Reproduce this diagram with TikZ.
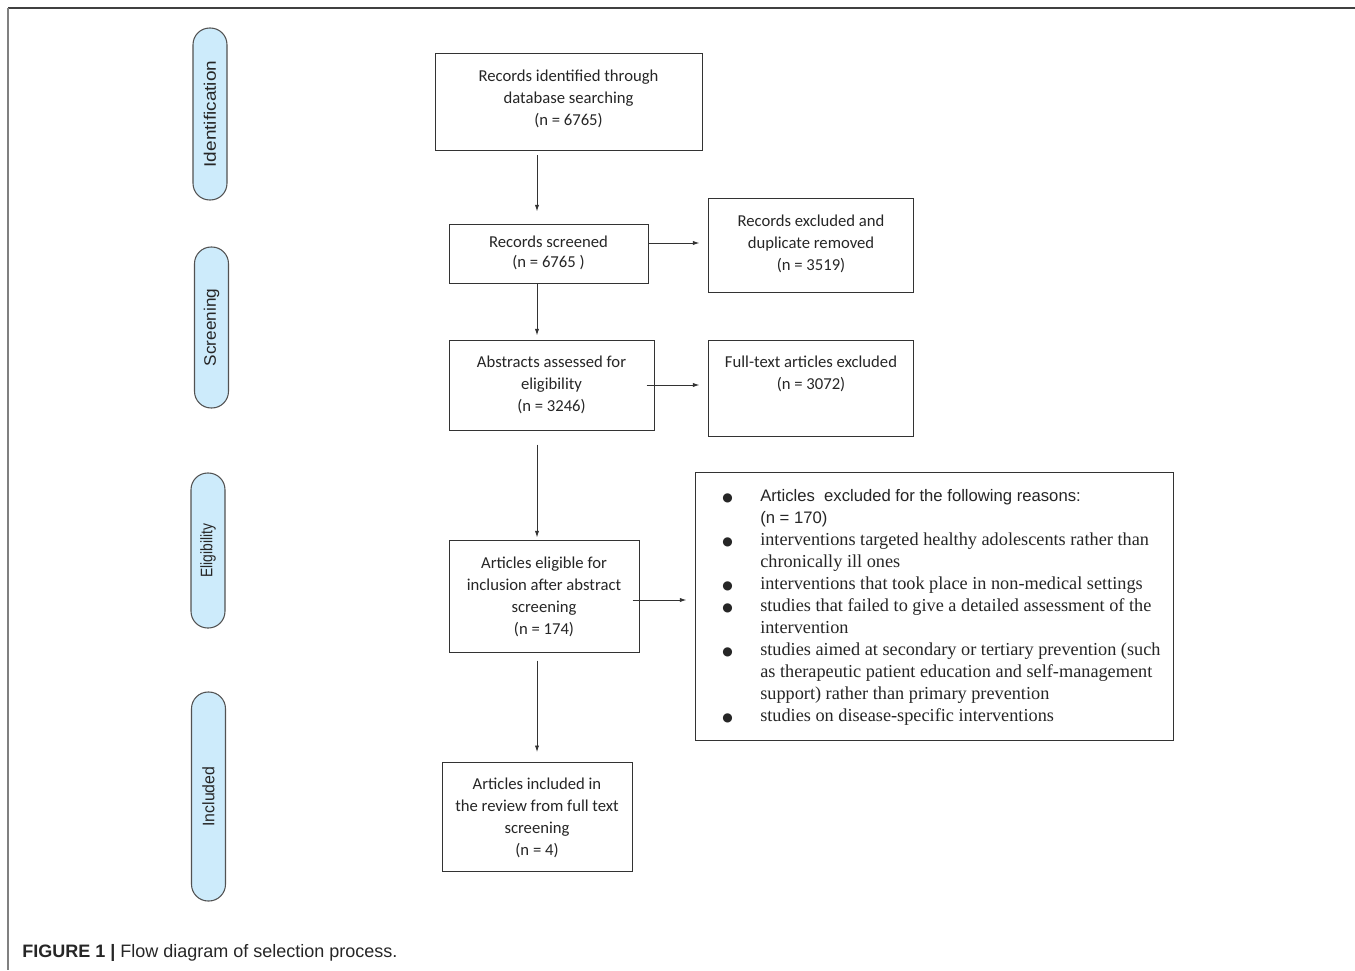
\documentclass[tikz,border=0pt]{standalone}
\usepackage{fontspec}
\setmainfont{Carlito}
\newfontfamily\arialf{Liberation Sans}
\newfontfamily\timesf{Liberation Serif}
\newfontfamily\djv{DejaVu Sans}
\usetikzlibrary{arrows.meta,calc}
\definecolor{pillblue}{HTML}{CDEBFB}
\definecolor{edge}{HTML}{333333}
\newcommand{\bul}{{\djv\fontsize{9}{9}\selectfont ●}}
\begin{document}
\begin{tikzpicture}[x=0.75pt,y=-0.75pt,
  box/.style={draw=edge, line width=0.75pt, inner sep=0, fill=white},
  btext/.style={align=center, font=\fontsize{12.5}{16.5}\selectfont, inner sep=0, text=black!85},
  pill/.style={draw=edge!85, line width=0.8pt, fill=pillblue, rounded corners=12.5pt, rotate=90, inner sep=0,
    font=\arialf\fontsize{12.5}{14}\selectfont, text=black!85, minimum height=25.5pt},
  arr/.style={draw=edge, line width=0.7pt, -{Latex[length=5pt,width=3.2pt]}}]
\useasboundingbox (0,0) rectangle (1355,970);
% frame
\draw[color=black!75, line width=1.5pt] (8,8.5) -- (1355,8.5);
\draw[color=black!50, line width=1.5pt] (8,8.5) -- (8,970);
% phase pills
\node[pill, minimum width=129pt] (p1) at (210,114) {\scalebox{1.14}[1]{Identification}};
\node[pill, minimum width=120.75pt] (p2) at (211.5,327.5) {\raisebox{0pt}{\scalebox{1.03}[1]{Screening}}};
\node[pill, minimum width=116.25pt] (p3) at (208,550.5) {\scalebox{0.83}[1]{Eligibility}};
\node[pill, minimum width=156.75pt] (p4) at (208.5,796.5) {\scalebox{0.95}[1]{Included}};
% boxes
\node[box, minimum width=200.25pt, minimum height=72.75pt] (b1) at (568.5,102.5) {};
\node[box, minimum width=149.25pt, minimum height=44.25pt] (b2) at (548.5,253.5) {};
\node[box, minimum width=153.75pt, minimum height=70.5pt] (b3) at (810.5,245) {};
\node[box, minimum width=153.75pt, minimum height=67.5pt] (b4) at (551.5,385) {};
\node[box, minimum width=153.75pt, minimum height=72pt] (b5) at (810.5,388) {};
\node[box, minimum width=142.5pt, minimum height=84pt] (b6) at (544,596) {};
\node[box, minimum width=358.5pt, minimum height=201pt] (r) at (934,606) {};
\node[box, minimum width=142.5pt, minimum height=81.75pt] (b8) at (537,816.5) {};
% box texts
\node[btext] (t1) at (568.5,99) {Records identified through\\database searching\\(n = 6765)};
\node[btext, font=\fontsize{12.5}{15}\selectfont] (t2) at (548.5,253) {Records screened\\(n = 6765 )};
\node[btext] (t3) at (811,244) {Records excluded and\\duplicate removed\\(n = 3519)};
\node[btext] (t4) at (551.5,385) {Abstracts assessed for\\eligibility\\(n = 3246)};
\node[btext] (t5) at (811,374) {Full-text articles excluded\\(n = 3072)};
\node[btext] (t6) at (544,597) {Articles eligible for\\inclusion after abstract\\screening\\(n = 174)};
\node[btext] (t8) at (537,818) {Articles included in\\the review from full text\\screening\\(n = 4)};
\node[anchor=north west, inner sep=0, text=black!85, font=\timesf\fontsize{13.7}{16.5}\selectfont] (rt) at (722,485.6) {%
\begin{tabular}{@{}p{28.5pt}@{}l@{}}
\bul & {\arialf\fontsize{12.5}{16.5}\selectfont Articles\ \ excluded for the following reasons:}\\
 & {\arialf\fontsize{12.5}{16.5}\selectfont (n = 170)}\\
\bul & interventions targeted healthy adolescents rather than\\
 & chronically ill ones\\
\bul & interventions that took place in non-medical settings\\
\bul & studies that failed to give a detailed assessment of the\\
 & intervention\\
\bul & studies aimed at secondary or tertiary prevention (such\\
 & as therapeutic patient education and self-management\\
 & support) rather than primary prevention\\
\bul & studies on disease-specific interventions
\end{tabular}};
% connectors
\draw[arr, shorten <=3pt, shorten >=9pt] (b1.south -| b8.north) -- (b2.north -| b8.north);
\draw[arr, shorten >=3pt] (b2.south -| b8.north) -- (b4.north -| b8.north);
\draw[arr, shorten <=10.5pt, shorten >=1.5pt] (b4.south -| b8.north) -- (b6.north -| b8.north);
\draw[arr, shorten <=6pt, shorten >=7pt] (b6.south -| b8.north) -- (b8.north);
\draw[arr, shorten >=6pt] ([yshift=7.875pt]b2.east) -- ([yshift=1.5pt]b3.west);
\draw[arr, shorten <=-6pt, shorten >=6pt] (b4.east) -- ([yshift=2.25pt]b5.west);
\draw[arr, shorten <=-5.25pt, shorten >=6pt] ([yshift=-3pt]b6.east) -- ([yshift=4.5pt]r.west);
% caption
\node[anchor=base west, inner sep=0, text=black!85, font=\arialf\fontsize{13.5}{16}\selectfont] (cap) at (22,957) {\textbf{FIGURE 1 |} Flow diagram of selection process.};
\end{tikzpicture}
\end{document}
